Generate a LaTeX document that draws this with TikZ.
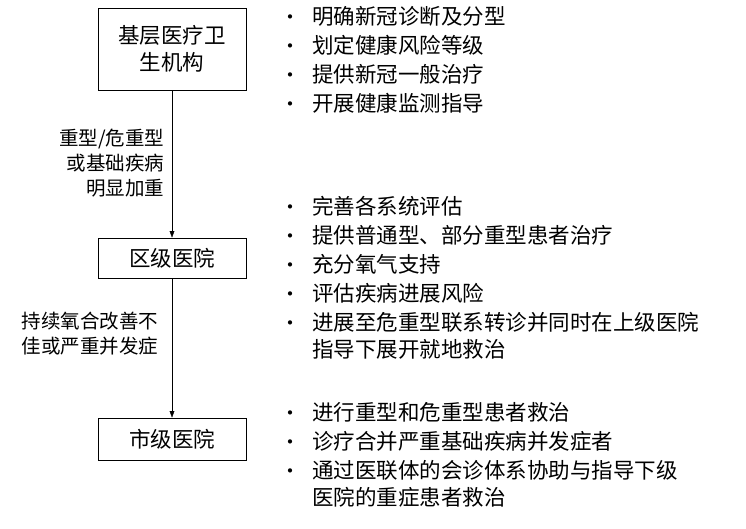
\documentclass[tikz,border=0pt]{standalone}
\usepackage{fontspec}
\setmainfont{Noto Sans CJK SC}
\usetikzlibrary{arrows.meta,positioning}
\tikzset{%
  tipA/.tip={Triangle[angle=40:7pt]},
  level/.style={draw, thick, minimum width=148pt, align=center, font=\fontsize{21.5}{27}\selectfont},
  cond/.style={align=right, font=\fontsize{19.5}{25}\selectfont, anchor=east},
  dot/.style={inner sep=0pt, font=\fontsize{20}{27}\selectfont},
  item/.style={anchor=north west, inner sep=0pt, text width=440pt, align=left, font=\fontsize{21.5}{27}\selectfont}
}
\newcommand{\itm}[3]{%
  \node[dot] at (290,#2+14) {•};
  \node[item] (#1) at (312,#2) {#3};}

\begin{document}
\begin{tikzpicture}[x=1pt,y=-1pt]
\useasboundingbox (0,0) rectangle (746,529);
\node[level, minimum height=82pt] (jc) at (172,49) {基层医疗卫\\生机构};
\node[level, minimum height=40pt] (qj) at (172,258) {区级医院};
\node[level, minimum height=42pt] (sj) at (172,439) {市级医院};
\draw[-tipA] (jc) -- (qj);
\draw[-tipA] (qj) -- (sj);
\node[cond] at (168,163) {重型/危重型\\或基础疾病\\明显加重};
\node[cond] at (162,334) {持续氧合改善不\\佳或严重并发症};
% level one
\itm{a1}{6}{明确新冠诊断及分型}
\itm{a2}{35}{划定健康风险等级}
\itm{a3}{64}{提供新冠一般治疗}
\itm{a4}{93}{开展健康监测指导}
% level two
\itm{b1}{196}{完善各系统评估}
\itm{b2}{225}{提供普通型、部分重型患者治疗}
\itm{b3}{254}{充分氧气支持}
\itm{b4}{283}{评估疾病进展风险}
\itm{b5}{312}{进展至危重型联系转诊并同时在上级医院\\指导下展开就地救治}
% level three
\itm{c1}{402}{进行重型和危重型患者救治}
\itm{c2}{431}{诊疗合并严重基础疾病并发症者}
\itm{c3}{460}{通过医联体的会诊体系协助与指导下级\\医院的重症患者救治}
\end{tikzpicture}
\end{document}
